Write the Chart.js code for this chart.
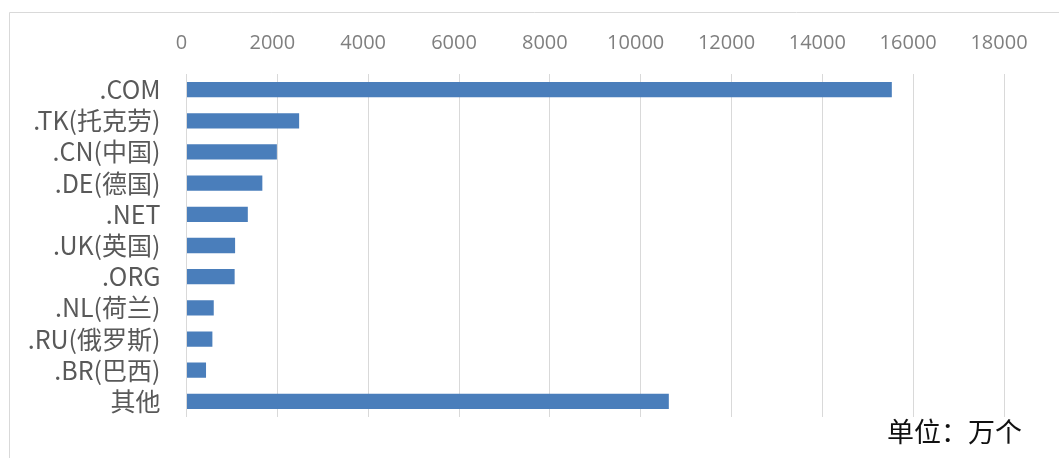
<!DOCTYPE html>
<html lang="zh-CN">
<head>
<meta charset="utf-8">
<script src="https://cdn.jsdelivr.net/npm/chart.js@4/dist/chart.umd.min.js"></script>
<style>
  html, body { margin: 0; padding: 0; background: #ffffff; }
  #wrap { position: relative; width: 1059px; height: 458px; overflow: hidden; }
  #unit {
    position: absolute; left: 887px; top: 413px;
    font-family: "Noto Sans CJK SC", sans-serif; font-size: 27px; line-height: 36px;
    color: #111111; white-space: nowrap;
  }
</style>
</head>
<body>
<div id="wrap">
  <canvas id="chart" width="1059" height="458"></canvas>
  <div id="unit">单位：万个</div>
</div>
<script>
// Domain name registrations by top-level domain (unit: 10k)
const categories = ['.COM', '.TK(托克劳)', '.CN(中国)', '.DE(德国)', '.NET', '.UK(英国)', '.ORG', '.NL(荷兰)', '.RU(俄罗斯)', '.BR(巴西)', '其他'];
const registrations = [15530, 2480, 1990, 1670, 1350, 1070, 1060, 600, 570, 430, 10620];
const axisMin = 0;
const axisMax = 18000;
const axisStep = 2000;

// Thin frame around the plot panel (top and left edges)
const framePlugin = {
  id: 'frame',
  beforeDraw(chart) {
    const ctx = chart.ctx;
    ctx.save();
    ctx.fillStyle = '#ffffff';
    ctx.fillRect(0, 0, chart.width, chart.height);
    ctx.strokeStyle = '#d9d9d9';
    ctx.lineWidth = 1;
    ctx.beginPath();
    ctx.moveTo(9.5, chart.height);
    ctx.lineTo(9.5, 12.5);
    ctx.lineTo(chart.width, 12.5);
    ctx.stroke();
    ctx.restore();
  }
};

new Chart(document.getElementById('chart'), {
  type: 'bar',
  data: {
    labels: categories,
    datasets: [{
      data: registrations,
      backgroundColor: '#4a7ebb',
      borderWidth: 0,
      barPercentage: 0.98,
      categoryPercentage: 0.5
    }]
  },
  options: {
    indexAxis: 'y',
    responsive: false,
    animation: false,
    layout: { padding: { left: 0, top: 0, right: 55, bottom: 25 } },
    plugins: { legend: { display: false }, tooltip: { enabled: false } },
    scales: {
      x: {
        position: 'top',
        min: axisMin,
        max: axisMax,
        afterFit(scale) { scale.height = 74; },
        border: { display: false },
        grid: { color: '#d9d9d9', lineWidth: 1, drawTicks: false },
        ticks: {
          stepSize: axisStep,
          padding: 19,
          labelOffset: -5,
          color: '#7f7f7f',
          font: { family: '"Open Sans", "Noto Sans", sans-serif', size: 20 },
          callback: (value) => String(value)
        }
      },
      y: {
        afterFit(scale) { scale.width = 186.5; },
        border: { display: false },
        grid: { display: false, drawTicks: false },
        ticks: {
          autoSkip: false,
          padding: 26,
          color: '#595959',
          font: { family: '"Noto Sans CJK SC", sans-serif', size: 25 }
        }
      }
    }
  },
  plugins: [framePlugin]
});
</script>
</body>
</html>
